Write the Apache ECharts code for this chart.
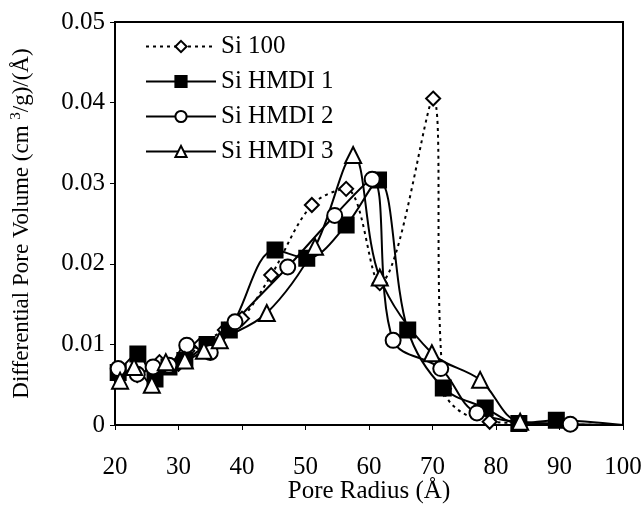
<!DOCTYPE html>
<html>
<head>
<meta charset="utf-8">
<script src="https://cdn.jsdelivr.net/npm/echarts@6/dist/echarts.min.js"></script>
<style>
  html, body { margin: 0; padding: 0; background: #fff; }
  #chart { width: 643px; height: 506px; }
</style>
</head>
<body>
<div id="chart"></div>
<script>
const FONT = "'Liberation Serif', 'Times New Roman', serif";

const seriesNames = ["Si 100", "Si HMDI 1", "Si HMDI 2", "Si HMDI 3"];

const radiusSi100 = [20.5, 23.5, 27, 30, 33.5, 37.3, 40, 44.6, 51.0, 56.4, 61.7, 70.1, 71.8, 79.0, 100];
const valuesSi100 = [0.0068, 0.0062, 0.0078, 0.0076, 0.0100, 0.0118, 0.0132, 0.0186, 0.0273, 0.0293, 0.0176, 0.0405, 0.0045, 0.0004, 0];

const radiusHmdi1 = [20.5, 23.6, 26.3, 28.5, 31, 34.5, 38, 45.2, 50.2, 56.4, 61.5, 66.1, 71.7, 78.3, 83.6, 89.5, 100];
const valuesHmdi1 = [0.0065, 0.0088, 0.0057, 0.0072, 0.0080, 0.0100, 0.0118, 0.0217, 0.0207, 0.0248, 0.0304, 0.0118, 0.0046, 0.0021, 0.0002, 0.0006, 0];

const radiusHmdi2 = [20.5, 23.5, 26, 28.5, 31.3, 35, 38.9, 47.2, 54.6, 60.5, 63.8, 71.3, 77, 91.7, 100];
const valuesHmdi2 = [0.0070, 0.0063, 0.0072, 0.0074, 0.0099, 0.0090, 0.0128, 0.0196, 0.0260, 0.0305, 0.0105, 0.0070, 0.0015, 0.0001, 0];

const radiusHmdi3 = [20.8, 23, 25.8, 28, 31, 34, 36.5, 43.9, 51.5, 57.5, 61.7, 69.9, 77.5, 83.8, 100];
const valuesHmdi3 = [0.0055, 0.0072, 0.0050, 0.0078, 0.0080, 0.0092, 0.0105, 0.0139, 0.0221, 0.0335, 0.0183, 0.0089, 0.0056, 0.0004, 0];

// last point of each curve (x = 100) carries no marker
function pairs(xs, ys) {
  return xs.map((x, i) => i === xs.length - 1
    ? { value: [x, ys[i]], symbol: "none" }
    : [x, ys[i]]);
}

function line(name, xs, ys, symbol, size, dashed) {
  return {
    name: name,
    type: "line",
    data: pairs(xs, ys),
    smooth: 0.35,
    symbol: symbol,
    symbolSize: size,
    showAllSymbol: true,
    lineStyle: { color: "#000", width: 2, type: dashed ? [3, 4] : "solid" },
    itemStyle: { color: "#000", borderColor: "#000", borderWidth: 2 },
    emphasis: { disabled: true },
    animation: false
  };
}

const chart = echarts.init(document.getElementById("chart"));
chart.setOption({
  backgroundColor: "#fff",
  textStyle: { fontFamily: FONT, color: "#000" },
  grid: {
    left: 115, right: 20, top: 22, bottom: 81,
    outerBoundsMode: "none",
    containLabel: false,
    show: true, borderColor: "#000", borderWidth: 2
  },
  legend: {
    orient: "vertical",
    left: 140,
    top: 29,
    itemWidth: 70,
    itemHeight: 14,
    itemGap: 10,
    data: seriesNames,
    textStyle: { fontFamily: FONT, fontSize: 25, color: "#000", lineHeight: 25 }
  },
  xAxis: {
    type: "value",
    min: 20, max: 100, interval: 10,
    name: "Pore Radius (Å)",
    nameLocation: "middle",
    nameGap: 54,
    nameMoveOverlap: false,
    nameTextStyle: { fontFamily: FONT, fontSize: 25, color: "#000" },
    axisLine: { lineStyle: { color: "#000", width: 2 } },
    axisTick: { length: 5, lineStyle: { color: "#000" } },
    axisLabel: { margin: 30, fontFamily: FONT, fontSize: 25, color: "#000" },
    splitLine: { show: false }
  },
  yAxis: {
    type: "value",
    min: 0, max: 0.05, interval: 0.01,
    name: "Differential Pore Volume (cm {sup|3}/g)/(Å)",
    nameLocation: "middle",
    nameGap: 81,
    nameMoveOverlap: false,
    nameTextStyle: {
      fontFamily: FONT, fontSize: 23, color: "#000",
      rich: { sup: { fontFamily: FONT, fontSize: 15, verticalAlign: "top", padding: [0, 0, 10, 0] } }
    },
    axisLine: { show: true, lineStyle: { color: "#000", width: 2 } },
    axisTick: { show: true, length: 5, lineStyle: { color: "#000" } },
    axisLabel: { margin: 10, fontFamily: FONT, fontSize: 25, color: "#000" },
    splitLine: { show: false }
  },
  series: [
    line(seriesNames[0], radiusSi100, valuesSi100, "emptyDiamond", 14, true),
    line(seriesNames[1], radiusHmdi1, valuesHmdi1, "rect", 15, false),
    line(seriesNames[2], radiusHmdi2, valuesHmdi2, "emptyCircle", 15, false),
    line(seriesNames[3], radiusHmdi3, valuesHmdi3, "emptyTriangle", 16, false)
  ]
});
</script>
</body>
</html>
